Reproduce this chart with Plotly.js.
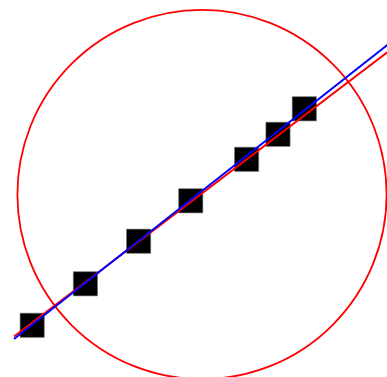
<!DOCTYPE html>
<html>
<head>
<meta charset="utf-8">
<script src="https://cdn.plot.ly/plotly-3.0.1.min.js"></script>
<style>html,body{margin:0;padding:0;background:#fff;}#chart{width:387px;height:377px;}</style>
</head>
<body>
<div id="chart"></div>
<script>
// Data points (black squares)
var pointX = [1.00, 2.00, 3.00, 3.98, 5.03, 5.62, 6.115];
var pointY = [1.00, 1.78, 2.58, 3.34, 4.12, 4.59, 5.07];

// Fitted lines (endpoints)
var redLineX = [0.658, 7.70];
var redLineY = [0.789, 6.150];
var blueLineX = [0.658, 7.70];
var blueLineY = [0.742, 6.290];

// Circle: centre and radius
var circleCenter = [4.192, 3.459];
var circleRadius = [3.470];

var traces = [
  {x: pointX, y: pointY, type: 'scatter', mode: 'markers',
   marker: {symbol: 'square', size: 24.2, color: '#000', line: {width: 0.6, color: '#777'}},
   hoverinfo: 'skip'},
  {x: redLineX, y: redLineY, type: 'scatter', mode: 'lines',
   line: {color: '#ff0000', width: 2}, hoverinfo: 'skip'},
  {x: blueLineX, y: blueLineY, type: 'scatter', mode: 'lines',
   line: {color: '#0000ff', width: 2}, hoverinfo: 'skip'}
];

var layout = {
  width: 387, height: 377,
  margin: {l: 0, r: 0, t: 0, b: 0, pad: 0},
  paper_bgcolor: '#fff', plot_bgcolor: '#fff',
  showlegend: false,
  xaxis: {range: [0.3947, 7.669], visible: false, fixedrange: true},
  yaxis: {range: [0.0282, 7.1147], visible: false, fixedrange: true},
  shapes: [{
    type: 'circle', xref: 'x', yref: 'y', layer: 'below',
    x0: circleCenter[0] - circleRadius[0], x1: circleCenter[0] + circleRadius[0],
    y0: circleCenter[1] - circleRadius[0], y1: circleCenter[1] + circleRadius[0],
    line: {color: '#ff0000', width: 1.8}
  }]
};

Plotly.newPlot('chart', traces, layout, {staticPlot: true, displayModeBar: false});
</script>
</body>
</html>
